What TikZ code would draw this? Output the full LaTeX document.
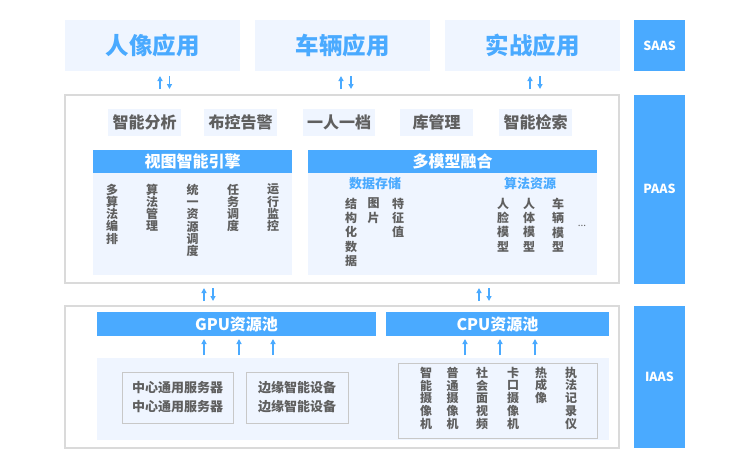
\documentclass[tikz,border=0pt]{standalone}
\usepackage{fontspec}
\setmainfont{Noto Sans CJK SC}
\usetikzlibrary{arrows.meta}
\definecolor{mblue}{RGB}{74,170,255}
\definecolor{mlight}{RGB}{239,245,255}
\definecolor{mgray}{RGB}{95,95,95}
\definecolor{mborder}{RGB}{218,218,218}
\definecolor{mborderb}{RGB}{200,200,200}
\newcommand{\fsz}[2]{\fontsize{#1}{#2}\selectfont}
\begin{document}
\begin{tikzpicture}[x=1pt,y=-1pt,
  every node/.style={inner sep=0pt,outer sep=0pt},
  appbox/.style={fill=mlight,minimum width=175pt,minimum height=51pt,text=mblue,font=\fsz{23.5}{25}\bfseries},
  layerbox/.style={fill=mblue,minimum width=51pt,text=white,font=\fsz{12.5}{14}\bfseries},
  outerbox/.style={draw=mborder,line width=1.2pt,fill=white},
  itembox/.style={fill=mlight,minimum width=73pt,minimum height=27pt,text=mgray,font=\fsz{16}{18}\bfseries},
  headbox/.style={fill=mblue,text=white,font=\fsz{16}{18}\bfseries},
  bodybox/.style={fill=mlight},
  vtext/.style={anchor=north,align=center,text=mgray,font=\fsz{12}{12.2}\bfseries},
  vtextb/.style={anchor=north,align=center,text=mgray,font=\fsz{12}{14.3}\bfseries},
  vtextc/.style={anchor=north,align=center,text=mgray,font=\fsz{12}{12.7}\bfseries},
  subtitle/.style={text=mblue,font=\fsz{13}{15}\bfseries},
  devbox/.style={draw=mborderb,line width=0.9pt,fill=mlight},
  devtext/.style={align=center,text=mgray,font=\fsz{13}{19}\bfseries},
  arr/.style={draw=mblue,line width=1.2pt,-{Triangle[width=5pt,length=5pt]}}
]
\useasboundingbox (0,0) rectangle (750,467);

% SAAS
\node[appbox] (app1) at (152.5,45.5) {人像应用};
\node[appbox] (app2) at (342.5,45.5) {车辆应用};
\node[appbox] (app3) at (532.5,45.5) {实战应用};
\node[layerbox,minimum height=51pt] (saas) at (659.5,45.5) {SAAS};

% PAAS
\node[outerbox,minimum width=554pt,minimum height=188pt] (paas) at (342,189) {};
\node[layerbox,minimum height=189pt] (paasl) at (659.5,189) {PAAS};

\node[itembox] (i1) at (144.5,122.5) {智能分析};
\node[itembox] (i2) at (240.5,122.5) {布控告警};
\node[itembox,minimum width=72pt] (i3) at (339,122.5) {一人一档};
\node[itembox] (i4) at (436.5,122.5) {库管理};
\node[itembox] (i5) at (535.5,122.5) {智能检索};

\node[bodybox,minimum width=199pt,minimum height=102pt] (vbody) at (192.5,224) {};
\node[headbox,minimum width=199pt,minimum height=23pt] (vhead) at (192.5,161.5) {视图智能引擎};
\node[bodybox,minimum width=289pt,minimum height=102pt] (mbody) at (452.5,224) {};
\node[headbox,minimum width=289pt,minimum height=23pt] (mhead) at (452.5,161.5) {多模型融合};

\node[vtext] (v1) at (112,184) {多\\算\\法\\编\\排};
\node[vtext] (v2) at (152,184) {算\\法\\管\\理};
\node[vtext] (v3) at (192.5,184) {统\\一\\资\\源\\调\\度};
\node[vtext] (v4) at (233,184) {任\\务\\调\\度};
\node[vtext] (v5) at (273,184) {运\\行\\监\\控};

\node[subtitle] (st1) at (375,184) {数据存储};
\node[subtitle] (st2) at (530,184) {算法资源};
\node[vtextb] (d1) at (351,198) {结\\构\\化\\数\\据};
\node[vtextb] (d2) at (373.5,198) {图\\片};
\node[vtextb] (d3) at (398,198) {特\\征\\值};
\node[vtextb] (m1) at (503,198) {人\\脸\\模\\型};
\node[vtextb] (m2) at (529,198) {人\\体\\模\\型};
\node[vtextb] (m3) at (558,198) {车\\辆\\模\\型};
\node[text=mgray,font=\fsz{10}{12}] (dots) at (582,226) {...};

% IAAS
\node[outerbox,minimum width=554pt,minimum height=142pt] (iaas) at (342,377) {};
\node[layerbox,minimum height=142pt] (iaasl) at (659.5,377) {IAAS};

\node[headbox,minimum width=279pt,minimum height=24pt] (gpu) at (236.5,324) {GPU资源池};
\node[headbox,minimum width=223pt,minimum height=24pt] (cpu) at (497.5,324) {CPU资源池};
\node[bodybox,minimum width=512pt,minimum height=82pt] (dev) at (353,399) {};

\node[devbox,minimum width=111pt,minimum height=51pt] (srv) at (177.5,397.5) {};
\node[devtext] at (srv.center) {中心通用服务器\\中心通用服务器};
\node[devbox,minimum width=102pt,minimum height=51pt] (edge) at (297,397.5) {};
\node[devtext] at (edge.center) {边缘智能设备\\边缘智能设备};
\node[devbox,minimum width=199pt,minimum height=75pt] (cam) at (497.5,400.5) {};

\node[vtextc] (c1) at (426,367) {智\\能\\摄\\像\\机};
\node[vtextc] (c2) at (452.5,367) {普\\通\\摄\\像\\机};
\node[vtextc] (c3) at (482,367) {社\\会\\面\\视\\频};
\node[vtextc] (c4) at (513,367) {卡\\口\\摄\\像\\机};
\node[vtextc] (c5) at (541,367) {热\\成\\像};
\node[vtextc] (c6) at (571,367) {执\\法\\记\\录\\仪};

% arrows
\foreach \x/\n in {160/a,341/b,530/c}{
  \coordinate (ua\n) at (\x,89); \coordinate (ub\n) at (\x,76);
  \draw[arr] (ua\n) -- (ub\n);
}
\foreach \x/\n in {169.5/a,351/b,540/c}{
  \coordinate (da\n) at (\x,76); \coordinate (db\n) at (\x,89);
  \draw[arr] (da\n) -- (db\n);
}
\foreach \x/\n in {204/a,479/b}{
  \coordinate (pa\n) at (\x,301); \coordinate (pb\n) at (\x,288);
  \draw[arr] (pa\n) -- (pb\n);
}
\foreach \x/\n in {213/a,489/b}{
  \coordinate (qa\n) at (\x,288); \coordinate (qb\n) at (\x,301);
  \draw[arr] (qa\n) -- (qb\n);
}
\foreach \x/\n in {204/a,239/b,273/c,465/d,500/e,535/f}{
  \coordinate (ra\n) at (\x,355); \coordinate (rb\n) at (\x,339);
  \draw[arr] (ra\n) -- (rb\n);
}
\end{tikzpicture}
\end{document}
